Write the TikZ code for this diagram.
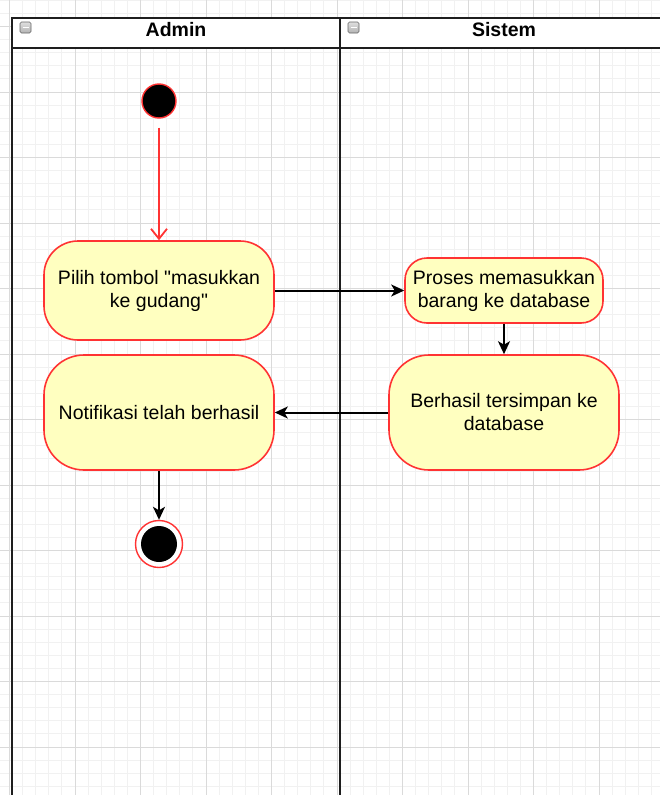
\documentclass[tikz,border=0pt]{standalone}
\usepackage{fontspec}
\setmainfont{Liberation Sans}[Ligatures=TeXOff]
\usetikzlibrary{arrows.meta}
\definecolor{actfill}{HTML}{FFFFC0}
\definecolor{actline}{HTML}{FF3333}
\definecolor{gridminor}{HTML}{F1F1F1}
\definecolor{gridmajor}{HTML}{DADADA}
\definecolor{laneline}{HTML}{1E1E1E}
\begin{document}
\begin{tikzpicture}[x=1pt,y=-1pt,
  act/.style={draw=actline, fill=actfill, line width=1.6pt, align=center,
    inner sep=0pt, font=\fontsize{19.5}{23}\selectfont},
  lanetitle/.style={font=\bfseries\fontsize{19.5}{23}\selectfont, inner sep=0pt},
  flow/.style={draw=black, line width=2pt, -{Stealth[length=13pt,width=12pt,inset=3.5pt]}},
  startflow/.style={draw=actline, line width=1.8pt, -{Straight Barb[length=10pt,width=16pt]}},
  lane/.style={draw=laneline, line width=2pt}]
\useasboundingbox (0,0) rectangle (660,795);
\fill[white] (0,0) rectangle (660,795);
% grid
\foreach \i in {-1,...,50} {\draw[gridminor, line width=1pt] ({9.5+13.1*\i},0) -- ({9.5+13.1*\i},795);}
\foreach \i in {-3,...,60} {\draw[gridminor, line width=1pt] (0,{26.5+13.1*\i}) -- (660,{26.5+13.1*\i});}
\foreach \i in {0,...,10} {\draw[gridmajor, line width=1pt] ({9.5+65.5*\i},0) -- ({9.5+65.5*\i},795);}
\foreach \i in {0,...,12} {\draw[gridmajor, line width=1pt] (0,{26.5+65.5*\i}) -- (660,{26.5+65.5*\i});}
% lane headers
\fill[white] (12,18) rectangle (660,48);
\draw[lane] (12,18) -- (662,18);
\draw[lane] (12,48) -- (662,48);
\draw[lane] (12,17) -- (12,796);
\draw[lane] (340,17) -- (340,796);
% collapse icons
\foreach \x in {20,348} {
  \draw[draw=gray!80!black, top color=gray!25, bottom color=gray!60, line width=0.7pt, rounded corners=1.5pt] (\x,22) rectangle ++(11,11);
  \draw[white, line width=1.8pt] (\x+2.5,27.5) -- (\x+8.5,27.5);
}
\node[lanetitle] (admin) at (176,30) {Admin};
\node[lanetitle] (sistem) at (504,30) {Sistem};
% nodes
\node[circle, fill=black, draw=actline, line width=1.4pt, minimum size=34pt, inner sep=0pt] (start) at (159,101) {};
\node[act, minimum width=230pt, minimum height=99pt, rounded corners=34pt] (pilih) at (159,290.5) {Pilih tombol "masukkan\\ke gudang"};
\node[act, minimum width=198pt, minimum height=65pt, rounded corners=22pt] (proses) at (504,290.5) {Proses memasukkan\\barang ke database};
\node[act, minimum width=230pt, minimum height=115pt, rounded corners=40pt] (berhasil) at (504,412.5) {Berhasil tersimpan ke\\database};
\node[act, minimum width=230pt, minimum height=115pt, rounded corners=40pt] (notif) at (159,412.5) {Notifikasi telah berhasil};
\node[circle, draw=actline, fill=white, line width=1.4pt, minimum size=47pt, inner sep=0pt] (end) at (159,544) {};
\node[circle, fill=black, minimum size=36pt, inner sep=0pt] (endin) at (end) {};
% connectors
\draw[startflow] ([yshift=-9pt]start.south) -- (pilih.north);
\draw[flow] (pilih.east) -- (proses.west);
\draw[flow] (proses.south) -- (berhasil.north);
\draw[flow] (berhasil.west) -- (notif.east);
\draw[flow] (notif.south) -- (end.north);
\end{tikzpicture}
\end{document}
